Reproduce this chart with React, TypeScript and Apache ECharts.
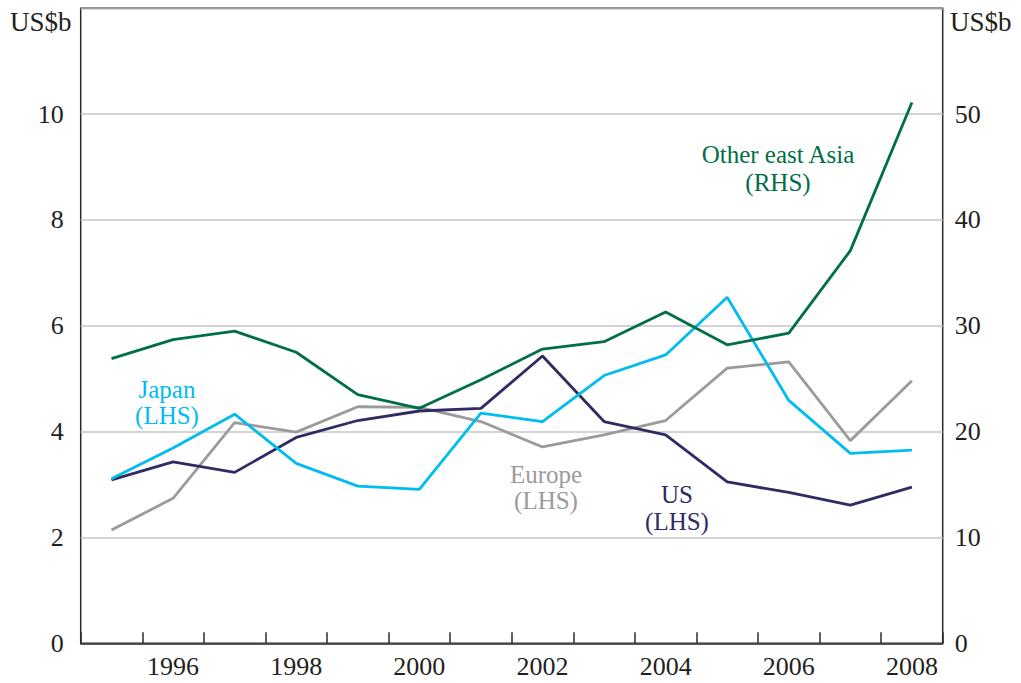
import React, { useEffect, useRef } from "react";
import * as echarts from "echarts";

const years = ["1995","1996","1997","1998","1999","2000","2001","2002","2003","2004","2005","2006","2007","2008"];
const otherEastAsia = [26.9, 28.7, 29.5, 27.5, 23.5, 22.2, 24.9, 27.8, 28.5, 31.3, 28.2, 29.3, 37.1, 51.1];
const japan = [3.11, 3.69, 4.33, 3.40, 2.97, 2.91, 4.35, 4.19, 5.06, 5.45, 6.54, 4.59, 3.59, 3.65];
const europe = [2.14, 2.74, 4.17, 3.99, 4.47, 4.46, 4.19, 3.71, 3.94, 4.21, 5.20, 5.32, 3.83, 4.96];
const us = [3.09, 3.43, 3.23, 3.89, 4.21, 4.39, 4.44, 5.43, 4.19, 3.94, 3.05, 2.85, 2.61, 2.95];

const FONT = "Liberation Serif";
const TXT = "#231f20";
const C_GREEN = "#006f47";
const C_CYAN = "#00bcf0";
const C_GRAY = "#9b9b9b";
const C_NAVY = "#2e2c63";

export default function App() {
  const ref = useRef<HTMLDivElement>(null);
  useEffect(() => {
    if (!ref.current) return;
    const chart = echarts.init(ref.current, null, { renderer: "svg" });
    const label = (text: string, x: number, y: number, color: string, lh: number) => ({
      type: "text",
      x,
      y,
      style: {
        text,
        fill: color,
        fontFamily: FONT,
        fontSize: 25,
        lineHeight: lh,
        align: "center",
        verticalAlign: "middle",
      },
    });
    chart.setOption({
      animation: false,
      backgroundColor: "#ffffff",
      grid: {
        left: 80.7,
        right: 78.3,
        top: 8.3,
        bottom: 39.7,
        show: true,
        borderColor: "#2b2b2b",
        borderWidth: 1.5,
        backgroundColor: "transparent",
      },
      xAxis: {
        type: "category",
        data: years,
        boundaryGap: true,
        axisLine: { show: true, lineStyle: { color: "#2b2b2b", width: 1.5 } },
        axisTick: { show: true, inside: true, length: 11, interval: 0, lineStyle: { color: "#2b2b2b", width: 1.5 } },
        axisLabel: {
          interval: (i: number) => i % 2 === 1,
          color: TXT,
          fontFamily: FONT,
          fontSize: 26,
          margin: 10,
        },
        splitLine: { show: false },
      },
      yAxis: [
        {
          type: "value",
          min: 0,
          max: 12,
          interval: 2,
          position: "left",
          axisLine: { show: false },
          axisTick: { show: false },
          axisLabel: {
            color: TXT,
            fontFamily: FONT,
            fontSize: 26,
            margin: 17,
            formatter: (v: number) => (v === 12 ? "" : String(v)),
          },
          splitLine: { show: true, lineStyle: { color: "#c6c6c6", width: 1.5 } },
        },
        {
          type: "value",
          min: 0,
          max: 60,
          interval: 10,
          position: "right",
          axisLine: { show: false },
          axisTick: { show: false },
          axisLabel: {
            color: TXT,
            fontFamily: FONT,
            fontSize: 26,
            margin: 12,
            formatter: (v: number) => (v === 60 ? "" : String(v)),
          },
          splitLine: { show: false },
        },
      ],
      series: [
        { name: "Europe", type: "line", data: europe, yAxisIndex: 0, symbol: "none", lineStyle: { color: C_GRAY, width: 2.8 }, z: 2 },
        { name: "US", type: "line", data: us, yAxisIndex: 0, symbol: "none", lineStyle: { color: C_NAVY, width: 2.8 }, z: 3 },
        { name: "Japan", type: "line", data: japan, yAxisIndex: 0, symbol: "none", lineStyle: { color: C_CYAN, width: 2.8 }, z: 4 },
        { name: "Other east Asia", type: "line", data: otherEastAsia, yAxisIndex: 1, symbol: "none", lineStyle: { color: C_GREEN, width: 2.8 }, z: 5 },
      ],
      graphic: [
        {
          type: "text", x: 10, y: 22,
          style: { text: "US$b", fill: TXT, fontFamily: FONT, fontSize: 27, verticalAlign: "middle" },
        },
        {
          type: "text", x: 950, y: 22,
          style: { text: "US$b", fill: TXT, fontFamily: FONT, fontSize: 27, verticalAlign: "middle" },
        },
        label("Japan\n(LHS)", 167, 402, C_CYAN, 26),
        label("Europe\n(LHS)", 546, 487, C_GRAY, 26),
        label("US\n(LHS)", 677, 508, C_NAVY, 27),
        label("Other east Asia\n(RHS)", 778, 168, C_GREEN, 28),
      ],
    });
    return () => chart.dispose();
  }, []);
  return (
    <div
      ref={ref}
      style={{ position: "fixed", left: 0, top: 0, width: 1021, height: 683, background: "#fff" }}
    />
  );
}
